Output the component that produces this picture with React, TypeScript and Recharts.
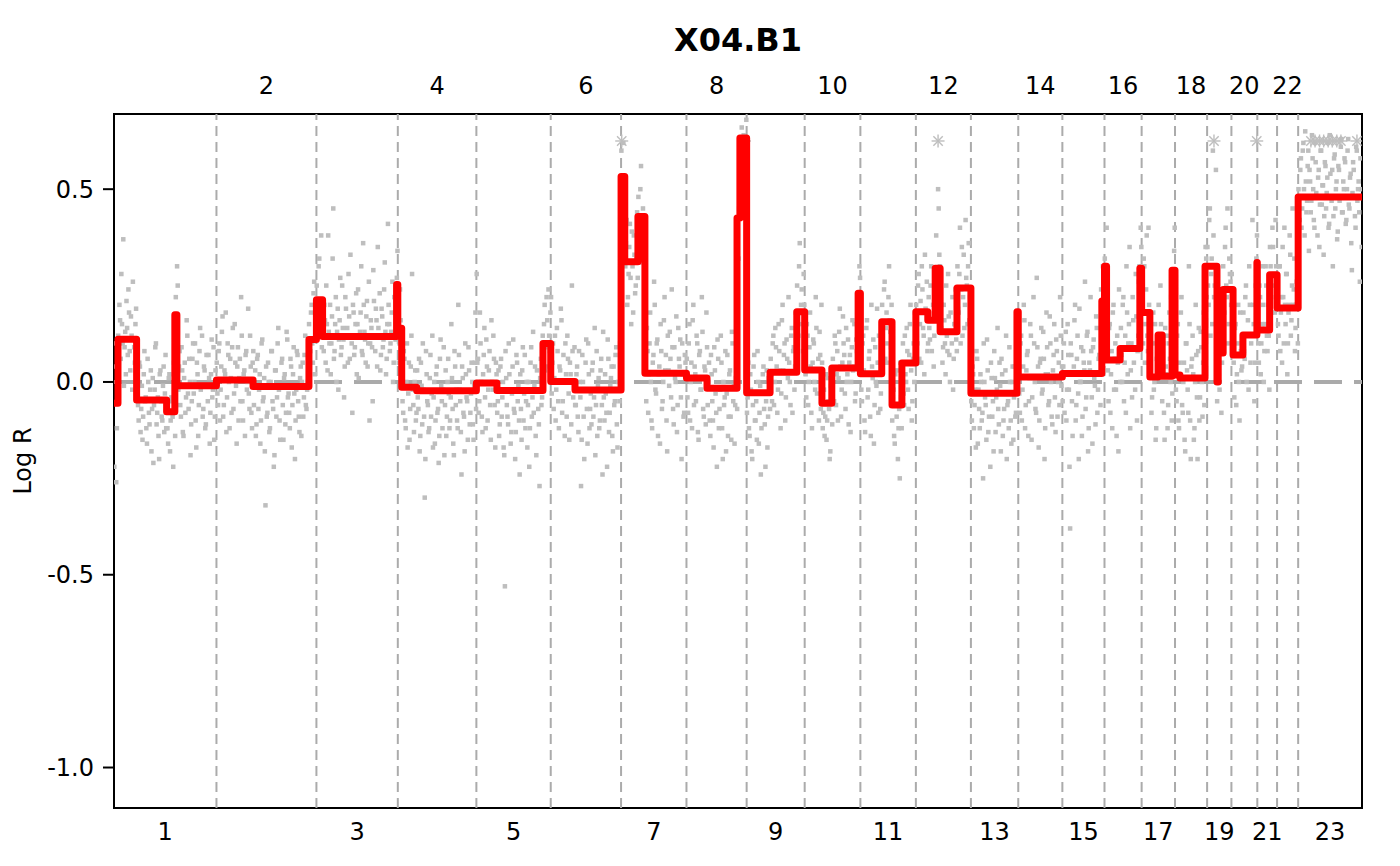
import React from 'react';
import { ComposedChart, XAxis, YAxis, Scatter, ReferenceLine, ReferenceArea } from 'recharts';

// ---- chromosomes ----
const chromNames = ['1', '2', '3', '4', '5', '6', '7', '8', '9', '10', '11', '12', '13', '14', '15', '16', '17', '18', '19', '20', '21', '22', '23'];
const chromLengths = [249.25, 243.2, 198.0, 191.15, 180.9, 171.1, 159.1, 146.4, 141.2, 135.5, 135.0, 133.9, 115.2, 107.3, 102.5, 90.35, 81.2, 78.1, 59.1, 63.0, 48.1, 51.3, 155.3];

// ---- y axis ----
const yTicks = [-1, -0.5, 0, 0.5];
const yMin = -1.105;
const yMax = 0.695;
const outlierLevel = 0.625;

// ---- probe-level log R values, first pass of probes along each chromosome ----
const probes1 = [-0.22, 0.04, -0.12, 0.12, 0.2, 0.06, 0.15, 0.37, 0.09, 0.02, 0.14, 0.24, 0.08, 0.17, -0.02, 0.11, 0.05, 0.19, -0.03, -0.1, 0.04, -0.07, -0.15, 0.02, -0.05, -0.12, 0.06, -0.08, -0.02, -0.18, 0.01, -0.06, 0.09, -0.11, -0.04, -0.2, 0.03, -0.09, -0.01, -0.13, 0.07, -0.08, -0.16, 0.02, -0.1, -0.05, -0.22, 0.0, 0.22, 0.3, -0.02, 0.08, -0.09, 0.03, -0.14, 0.05, -0.04, 0.12, -0.07, 0.0, -0.11, 0.06, -0.03, 0.1, -0.17, 0.02, -0.06, 0.14, -0.01, -0.09, 0.04, -0.12, 0.07, -0.05, 0.01, -0.08, 0.11, -0.02, -0.15, 0.03];
const probes2 = [0.05, -0.06, 0.1, -0.02, 0.13, -0.09, 0.03, 0.18, -0.04, 0.07, -0.12, 0.01, 0.09, -0.07, 0.15, -0.01, 0.04, -0.1, 0.06, 0.22, -0.05, 0.02, -0.14, 0.08, 0.0, -0.03, 0.12, -0.08, 0.05, -0.06, 0.03, -0.11, 0.07, -0.02, -0.16, 0.1, -0.05, 0.01, -0.32, -0.09, 0.05, -0.13, 0.0, 0.08, -0.07, -0.19, 0.03, -0.04, 0.14, -0.1, -0.01, 0.06, -0.15, 0.02, -0.08, 0.11, -0.03, -0.12, 0.04, -0.06, 0.09, -0.2, -0.02, 0.07, -0.09, 0.01, -0.14, 0.05, -0.04, 0.12, -0.07, 0.0, 0.15, 0.08, 0.2, 0.05, 0.26, 0.11];
const probes3 = [0.25, 0.14, 0.32, 0.18, 0.09, 0.12, 0.2, 0.05, 0.15, 0.38, 0.1, 0.02, 0.17, 0.45, 0.08, 0.22, 0.13, -0.02, 0.16, 0.07, 0.25, 0.11, 0.04, 0.19, 0.14, 0.28, 0.06, 0.12, -0.08, 0.18, 0.09, 0.23, 0.15, 0.01, 0.13, 0.3, 0.07, 0.2, 0.11, 0.17, 0.04, 0.26, 0.1, 0.14, -0.05, 0.21, 0.08, 0.16, 0.35, 0.12, 0.03, 0.19, 0.09, 0.24, 0.13, 0.06, 0.41, 0.15, 0.1, 0.18, 0.0, 0.22, 0.11, 0.27];
const probes4 = [0.2, 0.1, 0.16, 0.02, -0.08, 0.06, -0.12, 0.1, -0.03, -0.15, 0.04, 0.28, -0.06, 0.0, -0.1, 0.03, -0.07, -0.18, 0.05, -0.11, -0.02, -0.3, 0.08, -0.05, -0.13, 0.01, -0.09, 0.12, -0.04, -0.16, 0.02, -0.08, -0.21, 0.06, -0.01, -0.12, 0.09, -0.06, -0.14, 0.0, -0.03, -0.1, 0.15, -0.07, -0.19, 0.04, -0.02, -0.12, 0.07, -0.05, -0.24, 0.01, -0.09, 0.1, -0.04, -0.15, 0.03, -0.08, 0.05, -0.11, -0.01, 0.18];
const probes5 = [0.28, 0.06, -0.05, 0.1, -0.09, 0.02, 0.14, -0.12, 0.04, -0.02, 0.08, -0.15, 0.0, 0.12, -0.06, 0.05, -0.08, 0.03, -0.11, 0.06, -0.04, -0.17, -0.53, 0.01, -0.09, 0.1, -0.02, -0.13, 0.04, -0.07, -0.2, 0.07, -0.05, -0.1, 0.02, -0.15, 0.09, -0.03, -0.12, 0.0, -0.06, -0.22, 0.05, -0.09, 0.13, -0.01, -0.14, 0.03, -0.07, -0.27, 0.06, -0.04, 0.1, 0.2, 0.04, 0.16, 0.24, 0.08];
const probes6 = [0.22, 0.05, -0.07, 0.12, -0.02, 0.08, -0.12, 0.03, 0.16, -0.05, 0.0, 0.1, -0.09, 0.06, -0.15, 0.02, 0.25, -0.04, 0.09, -0.06, 0.04, -0.13, 0.0, -0.27, 0.07, -0.09, -0.02, 0.11, -0.16, 0.02, -0.07, -0.11, 0.05, -0.04, -0.19, 0.08, -0.01, -0.12, 0.03, -0.06, 0.13, -0.1, -0.03, -0.22, 0.06, -0.08, 0.01, -0.14, 0.04, -0.05, 0.09, -0.17, -0.02, 0.1];
const probes7 = [0.6, 0.45, 0.52, 0.3, 0.42, 0.22, 0.35, 0.27, 0.39, 0.18, 0.33, 0.25, 0.44, 0.48, 0.36, 0.56, 0.31, 0.42, 0.12, -0.05, 0.08, 0.02, 0.18, -0.1, 0.05, 0.26, -0.02, 0.1, -0.14, 0.04, 0.15, -0.07, 0.0, 0.22, 0.07, -0.18, 0.03, 0.13, -0.04, 0.09, -0.11, 0.01, 0.17, -0.06, 0.06, 0.11, -0.2, 0.02, -0.08, 0.05];
const probes8 = [0.06, -0.08, 0.15, 0.0, -0.12, 0.2, 0.04, -0.05, 0.1, -0.15, 0.08, -0.02, 0.13, -0.09, 0.03, 0.18, -0.06, 0.05, -0.14, 0.02, -0.1, 0.09, -0.03, -0.22, 0.06, -0.07, 0.12, -0.12, 0.0, -0.04, -0.18, 0.07, -0.09, 0.03, -0.15, 0.1, -0.01, -0.06, 0.04, 0.38, 0.45, 0.58, 0.66, 0.52, 0.62, 0.55];
const probes9 = [-0.08, 0.05, -0.14, -0.02, -0.2, 0.04, -0.1, -0.05, 0.08, -0.16, -0.01, -0.12, 0.02, -0.07, -0.22, 0.03, -0.09, 0.0, 0.06, -0.05, 0.12, 0.0, 0.09, -0.08, 0.15, 0.03, -0.03, 0.2, 0.07, -0.1, 0.11, 0.01, 0.05, -0.06, 0.14, 0.08, -0.02, 0.18, 0.25, 0.12, 0.36, 0.2, 0.15, 0.28];
const probes10 = [0.08, -0.04, 0.12, 0.0, 0.18, -0.08, 0.05, 0.1, -0.02, 0.14, 0.03, -0.1, 0.07, 0.2, -0.12, -0.02, -0.09, -0.15, 0.01, -0.07, -0.18, -0.04, 0.06, -0.05, 0.1, 0.02, -0.1, 0.13, 0.04, -0.02, 0.17, 0.07, -0.07, 0.0, 0.11, 0.05, -0.13, 0.09, 0.03, 0.15, -0.03, 0.08, 0.22, 0.3];
const probes11 = [0.07, -0.05, 0.12, -0.1, 0.02, 0.16, -0.02, 0.08, -0.14, 0.04, 0.11, -0.06, 0.0, 0.19, -0.08, 0.05, -0.03, 0.2, 0.1, 0.26, 0.14, 0.05, 0.22, 0.16, 0.09, -0.1, -0.02, -0.16, -0.06, 0.03, -0.12, -0.25, -0.04, 0.05, -0.03, 0.12, 0.0, 0.08, -0.07, 0.15, 0.03, -0.05, 0.1, 0.18];
const probes12 = [0.2, 0.1, 0.28, 0.15, 0.05, 0.24, 0.12, 0.33, 0.18, 0.08, 0.22, 0.11, 0.3, 0.16, 0.04, 0.19, 0.38, 0.26, 0.45, 0.3, 0.14, 0.05, 0.2, 0.1, 0.25, 0.08, 0.17, 0.0, 0.13, 0.22, 0.06, 0.15, 0.11, 0.3, 0.18, 0.4, 0.24, 0.12, 0.33, 0.2, 0.27, 0.15, 0.36, 0.22];
const probes13 = [-0.05, 0.04, -0.12, -0.02, 0.08, -0.16, -0.07, 0.02, -0.1, -0.25, 0.0, -0.06, 0.11, -0.13, -0.03, 0.05, -0.09, -0.18, 0.01, -0.04, 0.14, -0.11, -0.01, 0.06, -0.14, -0.07, 0.03, -0.2, -0.05, 0.09, -0.1, 0.0, -0.15, 0.04, -0.08, 0.16];
const probes14 = [0.05, -0.08, 0.12, -0.02, 0.2, -0.12, 0.03, 0.08, -0.05, 0.15, -0.15, 0.01, 0.1, -0.07, 0.27, 0.04, -0.1, 0.06, -0.03, 0.13, -0.2, 0.02, 0.09, -0.06, 0.17, 0.0, -0.11, 0.07, -0.04, 0.11, -0.09, 0.05, 0.22, -0.01];
const probes15 = [-0.05, 0.1, 0.02, -0.1, 0.15, -0.02, -0.38, 0.07, -0.14, 0.04, 0.2, -0.06, 0.12, -0.2, 0.0, 0.09, -0.09, 0.05, 0.26, -0.04, 0.13, -0.12, 0.03, 0.08, -0.16, 0.11, -0.01, 0.17, -0.08, 0.06, 0.02, 0.24, 0.18, 0.28];
const probes16 = [0.32, 0.2, 0.1, -0.05, 0.15, 0.02, -0.12, 0.2, 0.06, -0.02, 0.12, -0.18, 0.08, 0.14, 0.0, 0.22, 0.05, -0.08, 0.18, 0.1, 0.35, 0.03, -0.04, 0.16, 0.09, 0.28, -0.1, 0.12, 0.3, 0.4];
const probes17 = [0.25, 0.1, 0.3, 0.15, 0.38, 0.08, 0.2, 0.05, -0.08, 0.1, -0.02, 0.15, -0.12, 0.02, 0.2, 0.08, 0.15, -0.05, 0.1, -0.15, 0.04, 0.12, -0.06, 0.18, 0.0, -0.1, 0.26, 0.34];
const probes18 = [0.08, -0.05, 0.15, -0.12, 0.02, 0.22, -0.08, 0.05, -0.18, 0.1, -0.02, 0.3, -0.1, 0.04, 0.12, -0.15, 0.0, 0.07, -0.2, 0.14, -0.04, 0.09, -0.09, 0.18, 0.24, 0.32];
const probes19 = [0.35, 0.2, 0.45, 0.28, 0.15, 0.38, 0.25, 0.55, -0.05, 0.1, -0.02, 0.15, 0.05, 0.3, 0.18, 0.4, 0.22, 0.1, 0.32, 0.26];
const probes20 = [0.28, 0.1, -0.04, 0.15, 0.02, 0.2, -0.1, 0.08, 0.04, 0.18, 0.06, 0.25, 0.12, -0.02, 0.2, 0.1, 0.42, 0.15, 0.05, 0.32];
const probes21 = [0.18, 0.05, 0.22, 0.1, 0.3, 0.0, 0.15, 0.25, 0.08, 0.12, 0.35, 0.22, 0.4, 0.28, 0.18, 0.3];
const probes22 = [0.25, 0.12, 0.3, 0.18, 0.05, 0.22, 0.4, 0.15, 0.28, 0.1, 0.2, 0.33, 0.16, 0.45, 0.24, 0.08, 0.2, 0.3];
const probesX = [0.5, 0.42, 0.58, 0.45, 0.62, 0.38, 0.52, 0.47, 0.6, 0.55, 0.44, 0.64, 0.5, 0.4, 0.57, 0.48, 0.53, 0.35, 0.6, 0.46, 0.51, 0.43, 0.56, 0.49, 0.62, 0.41, 0.54, 0.47, 0.3, 0.58, 0.45, 0.52, 0.39, 0.55, 0.48, 0.63, 0.44, 0.5, 0.57, 0.42, 0.6, 0.46, 0.53, 0.36, 0.49, 0.55, 0.43, 0.61, 0.47, 0.52, 0.26, 0.5];

// ---- second pass of probes (interleaved with the first) ----
const probes1b = [0.1, -0.26, -0.05, 0.05, 0.16, 0.28, 0.1, -0.01, 0.13, 0.21, 0.07, 0.18, 0.03, 0.12, 0.26, 0.09, 0.15, 0.0, -0.06, 0.05, -0.13, -0.01, -0.09, 0.08, -0.04, -0.16, 0.0, -0.11, 0.03, -0.07, -0.21, -0.02, 0.1, -0.08, -0.14, 0.02, -0.05, -0.1, 0.04, -0.03, -0.12, -0.12, 0.01, -0.18, -0.04, -0.09, 0.05, -0.14, 0.14, 0.25, 0.04, -0.06, 0.09, -0.13, 0.01, -0.08, 0.16, -0.03, 0.06, -0.19, -0.05, 0.1, 0.0, -0.1, 0.05, -0.14, 0.08, -0.02, 0.12, -0.07, 0.03, -0.11, -0.01, 0.07, -0.16, 0.02, -0.04, 0.09, -0.09, 0.0];
const probes2b = [-0.03, 0.08, -0.1, 0.04, 0.17, -0.06, 0.02, -0.13, 0.1, 0.0, 0.06, -0.08, 0.14, -0.03, 0.05, -0.16, 0.09, 0.01, -0.05, 0.12, -0.1, 0.03, 0.07, -0.02, 0.19, -0.07, 0.04, -0.12, 0.08, -0.01, -0.14, 0.06, -0.07, 0.02, -0.1, 0.11, -0.04, -0.18, 0.04, -0.08, 0.0, -0.12, 0.08, -0.05, -0.22, 0.03, -0.09, 0.1, -0.02, -0.15, 0.05, -0.06, 0.01, -0.11, 0.13, -0.04, -0.08, 0.06, -0.17, 0.02, -0.03, -0.1, 0.08, -0.05, -0.13, 0.04, 0.0, -0.09, 0.07, -0.06, -0.02, 0.1, 0.06, 0.18, 0.1, 0.23, 0.02, 0.14];
const probes3b = [0.15, 0.3, 0.2, 0.38, 0.12, 0.08, 0.16, 0.25, 0.03, 0.13, 0.2, 0.1, 0.32, 0.06, 0.15, 0.0, 0.19, 0.11, 0.27, 0.09, 0.14, -0.04, 0.22, 0.12, 0.05, 0.17, 0.33, 0.1, 0.2, 0.07, 0.15, 0.02, 0.24, 0.12, 0.18, 0.08, 0.36, 0.13, 0.05, 0.21, 0.1, -0.1, 0.16, 0.09, 0.29, 0.12, 0.19, 0.04, 0.14, 0.23, 0.07, 0.17, 0.11, 0.31, 0.02, 0.15, 0.2, 0.08, 0.13, 0.26, 0.05, 0.18, 0.12, 0.34];
const probes4b = [0.05, 0.24, 0.12, -0.05, 0.08, -0.1, 0.0, -0.17, 0.05, -0.07, 0.12, -0.02, -0.13, 0.03, -0.08, -0.04, 0.06, -0.14, -0.01, 0.1, -0.09, -0.2, 0.02, -0.06, -0.12, 0.07, -0.03, -0.17, 0.0, -0.1, 0.04, -0.07, -0.14, 0.11, -0.05, -0.02, -0.19, 0.03, -0.09, 0.06, -0.12, -0.04, 0.01, -0.16, 0.08, -0.06, -0.1, 0.2, -0.02, -0.13, 0.04, -0.08, -0.18, 0.02, -0.05, 0.09, -0.11, -0.03, 0.0, -0.15, 0.05, -0.07];
const probes5b = [0.05, -0.08, 0.18, 0.0, -0.13, 0.07, -0.04, 0.11, -0.1, 0.03, -0.06, 0.16, -0.02, 0.06, -0.17, 0.02, -0.05, -0.14, 0.04, -0.09, 0.0, -0.19, 0.08, -0.06, -0.11, 0.02, -0.16, -0.03, 0.11, -0.08, -0.13, 0.05, -0.01, -0.24, -0.07, 0.03, -0.1, 0.07, -0.05, -0.17, 0.0, -0.12, 0.09, -0.04, -0.08, 0.04, -0.19, -0.02, -0.11, 0.01, -0.06, 0.12, 0.15, 0.03, 0.22, 0.09, 0.12, 0.18];
const probes6b = [-0.03, 0.1, 0.01, -0.1, 0.14, -0.05, 0.04, 0.19, -0.08, 0.07, -0.14, 0.02, 0.12, -0.03, 0.05, -0.11, 0.08, 0.0, -0.06, 0.02, -0.09, 0.08, -0.04, -0.15, 0.0, -0.2, 0.05, -0.07, 0.1, -0.12, -0.03, 0.03, -0.09, 0.14, -0.06, -0.14, 0.01, -0.1, 0.06, -0.24, -0.04, 0.02, -0.08, 0.11, -0.13, -0.01, 0.04, -0.18, -0.06, 0.07, -0.11, 0.0, -0.05, 0.03];
const probes7b = [0.48, 0.62, 0.4, 0.36, 0.2, 0.28, 0.41, 0.15, 0.3, 0.38, 0.23, 0.32, 0.27, 0.35, 0.5, 0.4, 0.45, 0.3, 0.05, 0.14, -0.08, 0.1, 0.0, -0.12, 0.07, 0.2, -0.03, 0.11, 0.02, -0.16, 0.08, -0.05, 0.16, 0.03, -0.1, 0.12, -0.01, 0.06, 0.24, -0.07, 0.09, 0.0, -0.13, 0.14, 0.04, -0.04, 0.1, -0.09, 0.07, 0.01];
const probes8b = [-0.04, 0.1, -0.1, 0.05, 0.16, -0.06, 0.02, 0.12, -0.13, 0.07, -0.02, 0.22, -0.07, 0.04, -0.11, 0.09, 0.0, -0.1, 0.07, -0.05, -0.17, 0.03, -0.08, 0.11, -0.12, -0.02, 0.05, -0.2, -0.06, 0.08, -0.03, -0.14, 0.02, -0.09, 0.13, -0.05, -0.16, 0.01, -0.07, 0.32, 0.5, 0.6, 0.5, 0.64, 0.57, 0.68];
const probes9b = [-0.04, -0.12, 0.02, -0.18, -0.06, 0.07, -0.1, -0.15, 0.0, -0.08, -0.24, -0.03, 0.04, -0.11, -0.05, -0.17, 0.01, -0.07, 0.02, 0.1, -0.06, 0.14, 0.04, -0.02, 0.08, -0.12, 0.16, 0.03, 0.1, -0.04, 0.06, 0.22, 0.0, 0.12, -0.08, 0.09, 0.04, 0.13, 0.1, 0.3, 0.18, 0.24, 0.08, 0.2];
const probes10b = [0.02, 0.15, -0.06, 0.09, 0.04, -0.12, 0.11, 0.0, 0.22, -0.03, 0.06, 0.13, -0.07, 0.05, -0.08, -0.14, 0.02, -0.1, -0.05, -0.2, -0.01, -0.11, 0.03, 0.12, -0.06, 0.08, 0.01, 0.19, -0.09, 0.05, 0.1, -0.03, 0.14, 0.02, -0.11, 0.07, 0.0, 0.16, 0.04, -0.05, 0.11, 0.06, 0.16, 0.27];
const probes11b = [-0.02, 0.1, 0.03, -0.13, 0.14, -0.04, 0.06, -0.09, 0.2, 0.01, -0.16, 0.09, -0.01, 0.05, 0.12, -0.07, 0.04, 0.12, 0.24, 0.06, 0.18, 0.1, 0.3, 0.13, 0.2, -0.04, -0.14, 0.02, -0.09, -0.2, -0.07, 0.05, -0.12, 0.1, -0.06, 0.02, 0.14, -0.02, 0.07, 0.2, -0.1, 0.06, 0.0, 0.12];
const probes12b = [0.12, 0.25, 0.06, 0.21, 0.3, 0.14, 0.02, 0.19, 0.26, 0.1, 0.14, 0.25, 0.08, 0.2, 0.12, 0.28, 0.22, 0.5, 0.33, 0.25, 0.2, 0.09, 0.16, 0.02, 0.12, 0.28, 0.07, 0.18, 0.1, -0.02, 0.15, 0.24, 0.08, 0.19, 0.28, 0.1, 0.35, 0.22, 0.14, 0.42, 0.25, 0.3, 0.16, 0.2];
const probes13b = [-0.1, 0.02, -0.06, -0.17, 0.06, -0.02, -0.12, 0.0, -0.08, 0.1, -0.04, -0.15, 0.03, -0.09, -0.22, 0.01, -0.05, 0.08, -0.13, -0.02, -0.07, 0.05, -0.18, 0.02, -0.1, -0.03, 0.12, -0.06, -0.12, 0.0, -0.16, 0.04, -0.04, -0.09, 0.06, 0.12];
const probes14b = [-0.03, 0.1, -0.1, 0.04, 0.16, -0.06, 0.07, -0.14, 0.01, 0.12, -0.04, 0.22, 0.0, -0.08, 0.09, -0.17, 0.05, 0.14, -0.02, 0.06, -0.12, 0.18, 0.02, -0.05, 0.1, -0.09, 0.03, 0.15, -0.13, 0.08, 0.0, -0.06, 0.12, 0.04];
const probes15b = [0.04, -0.08, 0.13, -0.02, 0.07, -0.22, 0.1, -0.05, 0.02, 0.16, -0.1, 0.06, -0.03, 0.19, 0.0, -0.14, 0.08, 0.03, -0.07, 0.12, -0.18, 0.05, 0.22, -0.04, 0.09, 0.01, -0.11, 0.14, -0.02, 0.07, -0.06, 0.15, 0.3, 0.22];
const probes16b = [0.25, 0.4, 0.03, 0.14, -0.08, 0.08, 0.18, -0.02, 0.1, -0.14, 0.05, 0.24, 0.0, 0.07, 0.2, -0.05, 0.12, 0.3, 0.02, 0.15, -0.12, 0.1, 0.22, 0.05, -0.02, 0.17, 0.08, 0.26, 0.22, 0.35];
const probes17b = [0.18, 0.32, 0.05, 0.24, 0.12, 0.4, 0.15, 0.1, -0.04, 0.18, 0.0, -0.15, 0.06, 0.12, 0.1, 0.25, 0.05, 0.08, -0.08, 0.14, 0.02, -0.12, 0.1, 0.06, 0.22, -0.03, 0.2, 0.4];
const probes18b = [-0.02, 0.12, -0.1, 0.05, 0.18, -0.06, 0.0, -0.15, 0.1, 0.03, -0.08, 0.15, -0.2, 0.06, 0.02, -0.12, 0.2, -0.04, 0.08, -0.1, 0.13, 0.0, 0.05, -0.06, 0.35, 0.22];
const probes19b = [0.25, 0.42, 0.12, 0.32, 0.6, 0.22, 0.3, 0.18, 0.05, 0.0, 0.12, -0.08, 0.2, 0.16, 0.35, 0.25, 0.45, 0.15, 0.28, 0.2];
const probes20b = [0.2, 0.05, 0.14, -0.06, 0.1, 0.0, 0.18, 0.03, 0.12, 0.08, 0.22, 0.0, 0.16, 0.3, 0.05, 0.12, 0.2, -0.05, 0.25, 0.38];
const probes21b = [0.1, 0.25, 0.02, 0.15, 0.2, 0.08, 0.3, 0.12, 0.2, -0.02, 0.3, 0.18, 0.35, 0.25, 0.42, 0.2];
const probes22b = [0.15, 0.3, 0.08, 0.22, 0.35, 0.1, 0.2, 0.28, 0.02, 0.18, 0.38, 0.12, 0.25, 0.2, 0.32, 0.14, 0.26, 0.1];
const probesXb = [0.45, 0.55, 0.4, 0.6, 0.5, 0.65, 0.44, 0.56, 0.34, 0.52, 0.47, 0.58, 0.42, 0.62, 0.49, 0.38, 0.55, 0.46, 0.6, 0.51, 0.33, 0.57, 0.45, 0.53, 0.4, 0.64, 0.48, 0.55, 0.43, 0.59, 0.5, 0.37, 0.56, 0.47, 0.61, 0.44, 0.52, 0.58, 0.41, 0.5, 0.63, 0.45, 0.54, 0.29, 0.57, 0.48, 0.4, 0.6, 0.5, 0.44, 0.58, 0.35];

const probeValues = [probes1, probes2, probes3, probes4, probes5, probes6, probes7, probes8, probes9, probes10, probes11, probes12, probes13, probes14, probes15, probes16, probes17, probes18, probes19, probes20, probes21, probes22, probesX];
const probeValuesB = [probes1b, probes2b, probes3b, probes4b, probes5b, probes6b, probes7b, probes8b, probes9b, probes10b, probes11b, probes12b, probes13b, probes14b, probes15b, probes16b, probes17b, probes18b, probes19b, probes20b, probes21b, probes22b, probesXb];

// ---- segments: [chromosome, start Mb, end Mb, segment mean] ----
const segments: [number, number, number, number][] = [
  [1, 1, 9.7, -0.055], [1, 9.7, 55, 0.111], [1, 55, 128, -0.047], [1, 128, 148, -0.077], [1, 148, 153, 0.174], [1, 153, 249.25, -0.01],
  [2, 0, 89, 0.005], [2, 89, 225, -0.012], [2, 225, 243.2, 0.11],
  [3, 0, 15, 0.213], [3, 15, 195, 0.118], [3, 195, 198, 0.253],
  [4, 0, 9.5, 0.139], [4, 9.5, 46, -0.014], [4, 46, 191.15, -0.023],
  [5, 0, 50, -0.003], [5, 50, 162, -0.022], [5, 162, 180.9, 0.1],
  [6, 0, 59, 0.001], [6, 59, 171.1, -0.021],
  [7, 0, 9, 0.533], [7, 9, 41, 0.312], [7, 41, 58, 0.429], [7, 58, 159.1, 0.0225],
  [8, 0, 50, 0.01], [8, 50, 123, -0.016], [8, 123, 130, 0.425], [8, 130, 146.4, 0.633],
  [9, 0, 57, -0.028], [9, 57, 122, 0.025], [9, 122, 141.2, 0.182],
  [10, 0, 42, 0.031], [10, 42, 66, -0.055], [10, 66, 130, 0.036], [10, 130, 135.5, 0.23],
  [11, 0, 52, 0.021], [11, 52, 77, 0.156], [11, 77, 101, -0.06], [11, 101, 135, 0.049],
  [12, 0, 29, 0.182], [12, 29, 47, 0.16], [12, 47, 59, 0.295], [12, 59, 100, 0.13], [12, 100, 133.9, 0.244],
  [13, 0, 112, -0.029], [13, 112, 115.2, 0.182],
  [14, 0, 107.3, 0.013],
  [15, 0, 96, 0.022], [15, 96, 102.5, 0.21],
  [16, 0, 5, 0.3], [16, 5, 38, 0.057], [16, 38, 86, 0.087], [16, 86, 90.35, 0.295],
  [17, 0, 20, 0.18], [17, 20, 40, 0.013], [17, 40, 50, 0.122], [17, 50, 74, 0.015], [17, 74, 81.2, 0.29],
  [18, 0, 12, 0.018], [18, 12, 73, 0.01], [18, 73, 78.1, 0.3],
  [19, 0, 24, 0.3], [19, 24, 27, 0.0], [19, 27, 39, 0.075], [19, 39, 59.1, 0.24],
  [20, 0, 4, 0.24], [20, 4, 28, 0.07], [20, 28, 62, 0.122], [20, 62, 63, 0.31],
  [21, 0, 30, 0.135], [21, 30, 48.1, 0.278],
  [22, 0, 51.3, 0.192],
  [23, 0, 155.3, 0.48],
];

// ---- probes above the plotted range: [chromosome, position Mb] ----
const outliers: [number, number][] = [
  [7, 1.6], [8, 141], [12, 54], [19, 16.7], [20, 61.6],
  [23, 31], [23, 41], [23, 52], [23, 62], [23, 73], [23, 83], [23, 94], [23, 104], [23, 143],
];

// ---- derived genome coordinates ----
const offsets: number[] = [];
let acc = 0;
chromLengths.forEach((len) => {
  offsets.push(acc);
  acc += len;
});
const genomeEnd = acc;
const centers = chromLengths.map((len, i) => offsets[i] + len / 2);
const oddTicks = centers.filter((_, i) => i % 2 === 0);
const evenTicks = centers.filter((_, i) => i % 2 === 1);
const boundaries = offsets.slice(1);

const chromLabel = (v: number) => {
  const idx = centers.findIndex((c) => Math.abs(c - v) < 1e-6);
  return idx >= 0 ? chromNames[idx] : '';
};

const probeData: { x: number; y: number }[] = [];
const addProbes = (sets: number[][], phase: number) => {
  sets.forEach((vals, c) => {
    vals.forEach((v, i) => {
      probeData.push({ x: offsets[c] + ((i + phase) / vals.length) * chromLengths[c], y: v });
    });
  });
};
addProbes(probeValues, 0.25);
addProbes(probeValuesB, 0.75);

// each segment contributes its start and end point; consecutive segments join with vertical steps
const segmentData: { x: number; y: number }[] = [];
segments.forEach(([c, s, e, m]) => {
  segmentData.push({ x: offsets[c - 1] + s, y: m });
  segmentData.push({ x: offsets[c - 1] + e, y: m });
});

const outlierData = outliers.map(([c, p]) => ({ x: offsets[c - 1] + p, y: outlierLevel }));

const FONT = 'DejaVu Sans';
const POINT_COLOR = '#BEBEBE';

const ProbeSquare = (props: any) => {
  const { cx, cy } = props;
  if (cx == null || cy == null) return null;
  return <rect x={cx - 2.25} y={cy - 2.25} width={4.5} height={4.5} fill={POINT_COLOR} />;
};

const NoMark = () => <g />;

const Asterisk = (props: any) => {
  const { cx, cy } = props;
  if (cx == null || cy == null) return null;
  const r = 6.5;
  const d = r * 0.72;
  return (
    <g stroke={POINT_COLOR} strokeWidth={1.4}>
      <line x1={cx - r} y1={cy} x2={cx + r} y2={cy} />
      <line x1={cx} y1={cy - r} x2={cx} y2={cy + r} />
      <line x1={cx - d} y1={cy - d} x2={cx + d} y2={cy + d} />
      <line x1={cx - d} y1={cy + d} x2={cx + d} y2={cy - d} />
    </g>
  );
};

const TitleLabel = (props: any) => {
  const vb = props.viewBox || { x: 106, y: 66, width: 1248, height: 40 };
  return (
    <text x={vb.x + vb.width / 2} y={vb.y - 23} textAnchor="middle" fontFamily={FONT} fontWeight="bold" fontSize={32} fill="#000">
      X04.B1
    </text>
  );
};

const YTitle = (props: any) => {
  const vb = props.viewBox || { x: 26, y: 106, width: 80, height: 694 };
  const cx = vb.x - 3;
  const cy = vb.y + vb.height / 2;
  return (
    <text transform={`translate(${cx},${cy}) rotate(-90)`} textAnchor="middle" fontFamily={FONT} fontSize={24} fill="#000">
      Log R
    </text>
  );
};

const tickStyle = { fill: '#000', fontSize: 24, fontFamily: FONT };

export default function App() {
  return (
    <div style={{ width: 1384, height: 850 }}>
      <ComposedChart width={1384} height={850} margin={{ top: 66, right: 30, bottom: 10, left: 26 }} style={{ fontFamily: FONT }}>
        <XAxis
          xAxisId="bottom"
          type="number"
          dataKey="x"
          domain={[0, genomeEnd]}
          allowDataOverflow
          ticks={oddTicks}
          interval={0}
          tickFormatter={chromLabel}
          tick={tickStyle}
          tickLine={false}
          axisLine={false}
          tickSize={0}
          tickMargin={15}
          height={40}
        />
        <XAxis
          xAxisId="top"
          orientation="top"
          type="number"
          dataKey="x"
          domain={[0, genomeEnd]}
          allowDataOverflow
          ticks={evenTicks}
          interval={0}
          tickFormatter={chromLabel}
          tick={tickStyle}
          tickLine={false}
          axisLine={false}
          tickSize={0}
          tickMargin={20}
          height={40}
          label={TitleLabel}
        />
        <YAxis
          type="number"
          dataKey="y"
          domain={[yMin, yMax]}
          allowDataOverflow
          ticks={yTicks}
          interval={0}
          tickFormatter={(v: number) => v.toFixed(1)}
          tick={tickStyle}
          tickLine={{ stroke: '#000', strokeWidth: 2 }}
          axisLine={false}
          tickSize={11}
          tickMargin={9}
          width={80}
          label={YTitle}
        />
        {boundaries.map((b) => (
          <ReferenceLine key={b} xAxisId="bottom" x={b} stroke="#ABABAB" strokeWidth={2} strokeDasharray="10 6" />
        ))}
        <ReferenceLine xAxisId="bottom" y={0} stroke="#AAAAAA" strokeWidth={4} strokeDasharray="28 12" />
        <Scatter xAxisId="bottom" data={probeData} shape={ProbeSquare} isAnimationActive={false} />
        <Scatter xAxisId="bottom" data={outlierData} shape={Asterisk} isAnimationActive={false} />
        <Scatter
          xAxisId="bottom"
          data={segmentData}
          shape={NoMark}
          fill="#FF0000"
          line={{ stroke: '#FF0000', strokeWidth: 7, strokeLinejoin: 'round', strokeLinecap: 'round', fill: 'none' }}
          lineType="joint"
          isAnimationActive={false}
        />
        <ReferenceArea xAxisId="bottom" x1={0} x2={genomeEnd} y1={yMin} y2={yMax} fill="none" fillOpacity={0} stroke="#000" strokeWidth={2} />
      </ComposedChart>
    </div>
  );
}
